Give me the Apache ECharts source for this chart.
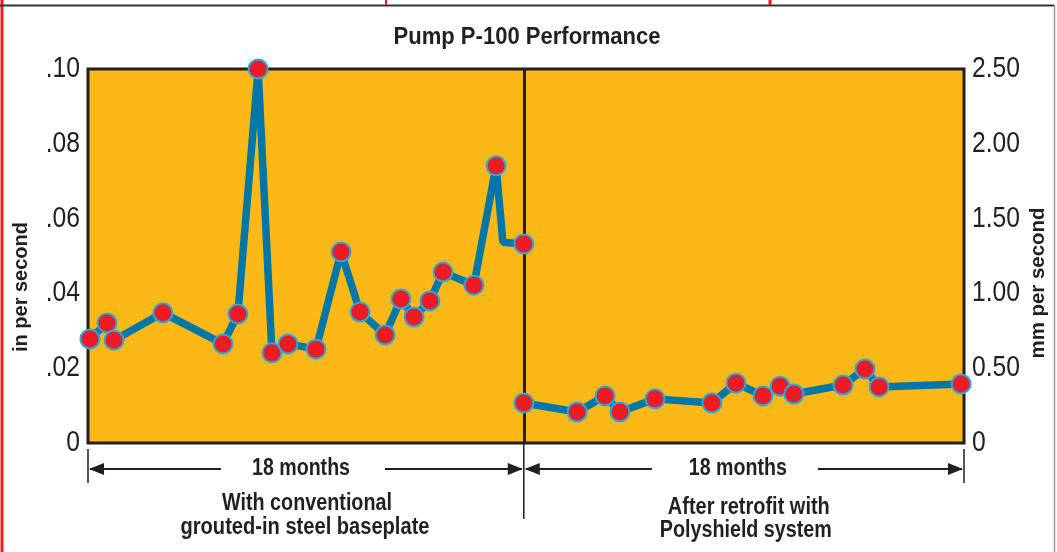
<!DOCTYPE html>
<html><head><meta charset="utf-8">
<script src="https://cdn.jsdelivr.net/npm/echarts@6/dist/echarts.min.js"></script>
<style>html,body{margin:0;padding:0;background:#fff}#c{width:1057px;height:552px}</style>
</head><body><div id="c"></div>
<script>
// ---- data ----
const title = 'Pump P-100 Performance';
const leftAxisName = 'in per second';
const rightAxisName = 'mm per second';
// months since start, before retrofit
const monthsBefore = [0.08, 0.78, 1.07, 3.08, 5.55, 6.16, 6.99, 7.56, 8.22, 9.37, 10.40, 11.18, 12.21, 12.86, 13.40, 14.05, 14.59, 15.86, 16.77, 17.05, 17.91];
const valuesBefore = [0.0278, 0.0321, 0.0275, 0.0348, 0.0265, 0.0345, 0.1000, 0.0241, 0.0265, 0.0251, 0.0511, 0.0350, 0.0289, 0.0385, 0.0337, 0.0380, 0.0457, 0.0422, 0.0741, 0.0537, 0.0532];
const unmarkedBefore = [19]; // bend in the line with no dot
// months since start, after retrofit
const monthsAfter = [17.91, 20.10, 21.25, 21.86, 23.30, 25.64, 26.63, 27.74, 28.44, 29.01, 31.03, 31.93, 32.51, 35.88];
const valuesAfter = [0.0107, 0.0083, 0.0126, 0.0083, 0.0118, 0.0107, 0.0160, 0.0126, 0.0152, 0.0131, 0.0155, 0.0198, 0.0150, 0.0158];
const leftTickValues = [0, 0.02, 0.04, 0.06, 0.08, 0.10];
const leftTicks = ['0', '.02', '.04', '.06', '.08', '.10'];
const rightTickValues = [0, 0.5, 1.0, 1.5, 2.0, 2.5];
const rightTicks = ['0', '0.50', '1.00', '1.50', '2.00', '2.50'];
const retrofitMonth = 17.91;
const totalMonths = 36;
const periodLabel = '18 months';
const beforeLabel = ['With conventional', 'grouted-in steel baseplate'];
const afterLabel = ['After retrofit with', 'Polyshield system'];

// ---- chart ----
const FAM = "'Liberation Sans', Arial, sans-serif";
const INK = '#231f20';
const chart = echarts.init(document.getElementById('c'), null, {renderer: 'canvas'});
const mctx = document.createElement('canvas').getContext('2d');
function fit(s, weight, size, width) {
  mctx.font = weight + ' ' + size + 'px ' + FAM;
  return width / mctx.measureText(s).width;
}

function pts(xs, ys, hidden) {
  return xs.map((x, i) => hidden && hidden.includes(i)
    ? {value: [x, ys[i]], symbol: 'none'}
    : [x, ys[i]]);
}
const lineSeries = (data, extra) => Object.assign({
  type: 'line', data: data, z: 5,
  lineStyle: {color: '#0077a6', width: 7.5},
  symbol: 'circle', symbolSize: 19,
  itemStyle: {color: '#ed1c24', borderColor: '#27aae1', borderWidth: 2},
  emphasis: {disabled: true}, animation: false
}, extra || {});

chart.setOption({
  animation: false,
  backgroundColor: '#ffffff',
  grid: {left: 88, right: 93, top: 69, bottom: 109, show: true,
    backgroundColor: '#fbb817', borderColor: INK, borderWidth: 3, z: 1},
  xAxis: {type: 'value', min: 0, max: totalMonths,
    axisLine: {show: false}, axisTick: {show: false}, axisLabel: {show: false}, splitLine: {show: false}},
  yAxis: [
    {type: 'value', min: 0, max: 0.1, interval: 0.02,
      axisLine: {show: false}, axisTick: {show: false}, axisLabel: {show: false},
      splitLine: {show: true, lineStyle: {color: '#3d2f0c', width: 1}}},
    {type: 'value', min: 0, max: 2.5, interval: 0.5, position: 'right',
      axisLine: {show: false}, axisTick: {show: false}, axisLabel: {show: false},
      splitLine: {show: false}}
  ],
  series: [
    lineSeries(pts(monthsBefore, valuesBefore, unmarkedBefore), {
      markLine: {silent: true, symbol: 'none', label: {show: false}, z: 3,
        lineStyle: {color: INK, width: 3, type: 'solid'},
        data: [{xAxis: retrofitMonth}]}
    }),
    lineSeries(pts(monthsAfter, valuesAfter))
  ]
});

// ---- annotations positioned from the axes ----
const x0 = chart.convertToPixel({xAxisIndex: 0}, 0);
const xm = chart.convertToPixel({xAxisIndex: 0}, retrofitMonth);
const x1 = chart.convertToPixel({xAxisIndex: 0}, totalMonths);
const yb = chart.convertToPixel({yAxisIndex: 0}, 0);
const arrowY = yb + 26;
const g = [];
const lineEl = (xa, ya, xb, yb2, w, c) => ({type: 'line', shape: {x1: xa, y1: ya, x2: xb, y2: yb2}, style: {stroke: c || INK, lineWidth: w || 1.5}, silent: true});
const head = (tipX, dir) => ({type: 'polygon', silent: true,
  shape: {points: [[tipX, arrowY], [tipX + dir * 15, arrowY - 6], [tipX + dir * 15, arrowY + 6]]}, style: {fill: INK}});
function txt(s, x, y, opt) {
  const o = Object.assign({weight: 'bold', size: 22, align: 'center', width: null, rot: 0, scale: null}, opt || {});
  const sc = o.scale || (o.width ? fit(s, o.weight, o.size, o.width) : 1);
  return {type: 'text', silent: true, x: x, y: y, rotation: o.rot, scaleX: sc, scaleY: 1,
    style: {text: s, fontFamily: FAM, fontWeight: o.weight, fontSize: o.size, fill: INK, align: o.align, verticalAlign: 'middle'}};
}

// title
g.push(txt(title, 527, 37, {size: 24, width: 267}));
// tick labels (left and right value axes)
const tickScale = fit('2.50', 'normal', 29, 48);
leftTickValues.forEach((v, i) => {
  g.push(txt(leftTicks[i], x0 - 8, chart.convertToPixel({yAxisIndex: 0}, v), {weight: 'normal', size: 29, align: 'right', scale: tickScale}));
});
rightTickValues.forEach((v, i) => {
  g.push(txt(rightTicks[i], x1 + 8, chart.convertToPixel({yAxisIndex: 1}, v), {weight: 'normal', size: 29, align: 'left', scale: tickScale}));
});
// tick marks below the plot
g.push(lineEl(x0, yb + 6, x0, yb + 40, 1.5));
g.push(lineEl(x1, yb + 6, x1, yb + 40, 1.5));
g.push(lineEl(xm, yb, xm, yb + 76, 1.5));
// arrows
function span(a, b, tc, gl, gr) {
  g.push(lineEl(a + 2, arrowY, tc - gl, arrowY, 1.8));
  g.push(lineEl(tc + gr, arrowY, b - 2, arrowY, 1.8));
  g.push(head(a + 1, 1));
  g.push(head(b - 1, -1));
  g.push(txt(periodLabel, tc, arrowY, {size: 23, width: 98}));
}
span(x0, xm, x0 + 213, 80, 84);
span(xm, x1, xm + 214, 86, 80);
g.push(txt(beforeLabel[0], x0 + 219, yb + 61, {size: 23, width: 170}));
g.push(txt(beforeLabel[1], x0 + 217, yb + 85, {size: 23, width: 249}));
g.push(txt(afterLabel[0], xm + 225, yb + 65, {size: 23, width: 162}));
g.push(txt(afterLabel[1], xm + 222, yb + 88, {size: 23, width: 172}));
// axis names
g.push(txt(leftAxisName, 21, 287, {size: 21, width: 130, rot: Math.PI / 2}));
g.push(txt(rightAxisName, 1038, 283, {size: 21, width: 151, rot: Math.PI / 2}));
// page frame
g.push(lineEl(2, 0, 2, 552, 3, '#ed1c24'));
g.push(lineEl(0, 5.5, 1054, 5.5, 2, '#333333'));
g.push(lineEl(386, 0, 386, 5, 2, '#ed1c24'));
g.push(lineEl(770, 0, 770, 5, 3, '#ed1c24'));
g.push(lineEl(1054.5, 5, 1054.5, 552, 1.5, '#9a9a9a'));
chart.setOption({graphic: {elements: g}});
</script>
</body></html>
